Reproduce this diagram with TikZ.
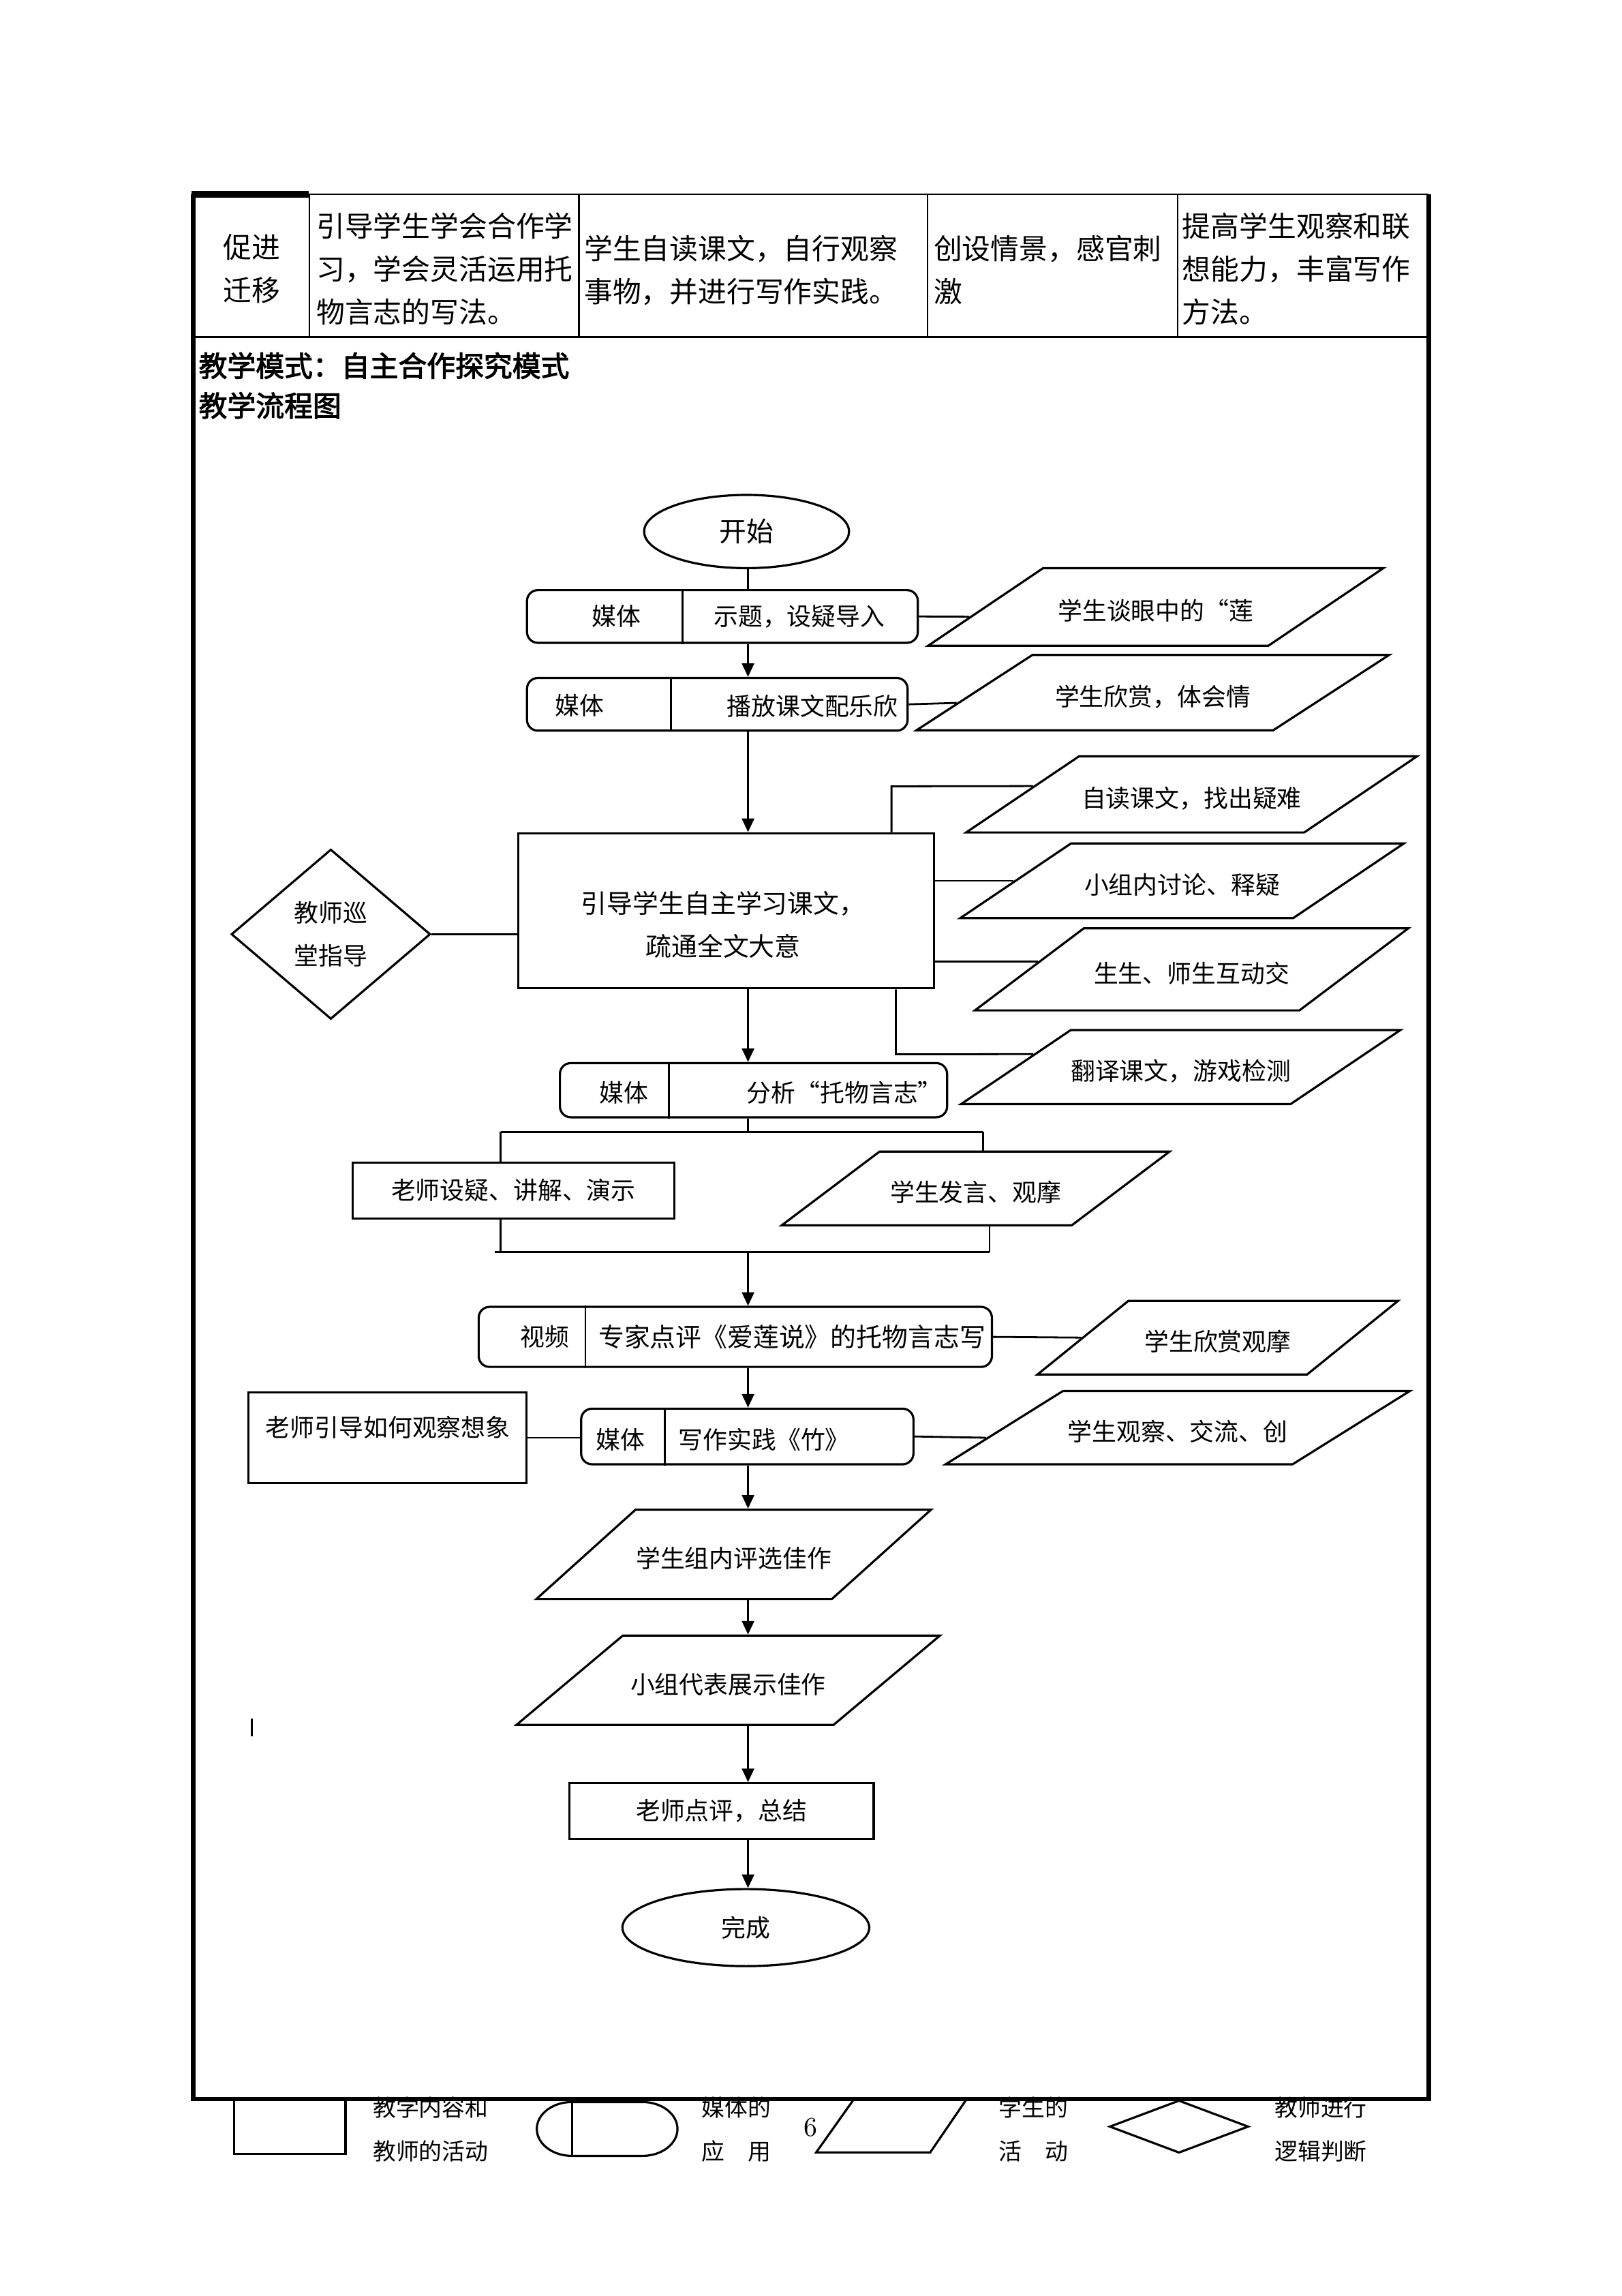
\documentclass[tikz,border=0pt]{standalone}
\usepackage{fontspec}
\newfontfamily\zh{Noto Sans CJK SC}
\newfontfamily\zhb{Noto Sans CJK SC}[FakeBold=2.5]
\usetikzlibrary{arrows.meta, shapes.geometric}
\newcommand{\pxl}{0.018953cm}

\begin{document}
\begin{tikzpicture}[x=0.018953cm, y=-0.018953cm, >={Triangle[length=5pt, width=4.5pt]},
  every node/.style={font=\zh\fontsize{9}{11}\selectfont, inner sep=0pt},
  frame/.style={line width=1.6pt},
  grid/.style={line width=0.6pt},
  cell/.style={align=left, anchor=west, font=\zh\fontsize{10.5}{15.8}\selectfont},
  head/.style={anchor=west, font=\zhb\fontsize{10.5}{12}\selectfont},
  box/.style 2 args={draw, line width=0.8pt, minimum width=#1*\pxl, minimum height=#2*\pxl},
  media/.style 2 args={box={#1}{#2}, rounded corners=4pt},
  stu/.style n args={4}{draw, line width=0.8pt, trapezium, trapezium left angle=#3, trapezium right angle=#4, trapezium stretches body, minimum width=#1*\pxl, text height={(#2/2+9)*\pxl}, text depth={(#2/2-9)*\pxl}},
  term/.style 2 args={draw, ellipse, line width=0.8pt, minimum width=#1*\pxl, minimum height=#2*\pxl},
  link/.style={line width=0.7pt},
  flow/.style={link, ->},
  legend/.style={anchor=west, font=\zh\fontsize{8.5}{10}\selectfont}]
  \useasboundingbox (0,0) rectangle (1108,1568);

  \draw[grid] (211,132.6) -- (976,132.6);
  \draw[line width=2.4pt] (131,132.6) -- (211,132.6);
  \draw[grid] (131,230.3) -- (976,230.3);
  \foreach \cx in {211.4,395.4,633.6,804.6}
    \draw[grid] (\cx,132.6) -- (\cx,230.3);
  \node[align=center, font=\zh\fontsize{10.5}{15.8}\selectfont] (c1) at (172,183.5) {促进\\迁移};
  \node[cell] (c2) at (215.8,183.8) {引导学生学会合作学\\习，学会灵活运用托\\物言志的写法。};
  \node[cell] (c3) at (398.7,184.5) {学生自读课文，自行观察\\事物，并进行写作实践。};
  \node[cell] (c4) at (637.5,184.5) {创设情景，感官刺\\激};
  \node[cell] (c5) at (807.3,183.8) {提高学生观察和联\\想能力，丰富写作\\方法。};
  \node[head] (mode) at (135.4,249.7) {教学模式：自主合作探究模式};
  \node[head] (chart) at (135.4,276.9) {教学流程图};

  \coordinate (spine) at (511,0);
  \node[term={140}{50}, font=\zh\fontsize{10}{12}\selectfont] (start) at (510,363) {开始};
  \node[media={267}{36}] (m1) at (493.5,421) {};
  \node (m1a) at (421,421) {媒体};
  \node (m1b) at (546,421) {示题，设疑导入};
  \draw[link] ([xshift=107*\pxl]m1.north west) -- ([xshift=107*\pxl]m1.south west);
  \node[media={260}{36}] (m2) at (490,481) {};
  \node (m2a) at (396,482) {媒体};
  \node (m2b) at (555,482) {播放课文配乐欣};
  \draw[link] ([xshift=99*\pxl]m2.north west) -- ([xshift=99*\pxl]m2.south west);
  \node[stu={311}{53}{34}{146}] (p1) at (789.5,414.5) {学生谈眼中的“莲};
  \node[stu={323}{51.5}{33}{147}] (p2) at (787.5,473) {学生欣赏，体会情};

  \node[box={284}{106}] (main) at (496,622) {};
  \node[align=center, font=\zh\fontsize{9.5}{15.6}\selectfont] (main-t) at (494,631.5) {引导学生自主学习课文，\\疏通全文大意};
  \node[draw, diamond, line width=0.8pt, minimum width=136*\pxl, minimum height=116*\pxl, align=center, font=\zh\fontsize{9}{15.6}\selectfont] (guide) at (226,638) {教师巡\\堂指导};
  \node[stu={308}{52}{34}{146}] (p3) at (814,542.5) {自读课文，找出疑难};
  \node[stu={303}{51}{34}{146}] (p4) at (807.5,601.5) {小组内讨论、释疑};
  \node[stu={296}{56}{37}{143}] (p5) at (814,662) {生生、师生互动交};
  \node[stu={300}{50.5}{34}{146}] (p6) at (806.6,728.7) {翻译课文，游戏检测};

  \node[media={264.5}{37}] (m3) at (514.75,744.5) {};
  \node (m3a) at (426,746) {媒体};
  \node (m3b) at (577,746) {分析“托物言志”};
  \draw[link] ([xshift=75*\pxl]m3.north west) -- ([xshift=75*\pxl]m3.south west);
  \node[box={219.5}{38}] (teach) at (350.75,813) {老师设疑、讲解、演示};
  \node[stu={265}{50.4}{37}{143}] (speak) at (666.5,811.6) {学生发言、观摩};

  \node[media={350.6}{41}] (video) at (502.3,913) {};
  \node (video-a) at (372,913) {视频};
  \node[font=\zh\fontsize{9.5}{11}\selectfont] (video-b) at (541,913) {专家点评《爱莲说》的托物言志写};
  \draw[link] ([xshift=73.7*\pxl]video.north west) -- ([xshift=73.7*\pxl]video.south west);
  \node[stu={246.3}{50.3}{39}{141}] (watch) at (831.9,913.5) {学生欣赏观摩};

  \node[media={227}{38}] (m4) at (510.5,981) {};
  \node (m4a) at (424,983) {媒体};
  \node (m4b) at (522,983) {写作实践《竹》};
  \draw[link] ([xshift=58*\pxl]m4.north west) -- ([xshift=58*\pxl]m4.south west);
  \node[box={190}{62}] (lead) at (264.7,981.9) {};
  \node (lead-t) at (265,975) {老师引导如何观察想象};
  \node[stu={317}{50}{32}{148}] (create) at (804.5,975) {学生观察、交流、创};

  \node[stu={269.6}{61}{42}{138}] (pick) at (501.2,1061.5) {学生组内评选佳作};
  \node[stu={289.3}{61}{40}{140}] (show) at (497.4,1147.5) {小组代表展示佳作};
  \node[box={207.8}{38}] (sum) at (492.9,1236.8) {老师点评，总结};
  \node[term={168.6}{52.6}] (finish) at (509.5,1316.4) {完成};
  \draw[line width=0.6pt] (172,1173.6) -- (172,1185.7);

  \draw[link] (spine |- start.south) -- (spine |- m1.north);
  \draw[flow] (spine |- m1.south) -- (spine |- m2.north);
  \draw[flow] (spine |- m2.south) -- (spine |- main.north);
  \draw[link] (m1.east) -- (p1.183);
  \draw[link] (m2.east) -- (p2.183);
  \draw[link] (guide.east) -- (guide.east -| main.west);
  \coordinate (tapN) at (609,537);
  \coordinate (tapS) at (612,720);
  \draw[link] (tapN |- main.north) -- (tapN) -- (p3.177);
  \draw[link] (main.east |- p4.west) -- (p4.west);
  \draw[link] (main.east |- p5.177) -- (p5.177);
  \draw[link] (tapS |- main.south) -- (tapS) -- (p6.175);
  \draw[flow] (spine |- main.south) -- (spine |- m3.north);

  \coordinate (splitL) at (342,773);
  \coordinate (splitR) at (671.5,773);
  \coordinate (mergeL) at (338,855);
  \coordinate (mergeR) at (676,855);
  \draw[link] (spine |- m3.south) -- (spine |- splitL);
  \draw[link] (splitL) -- (splitR);
  \draw[link] (splitL) -- (splitL |- teach.north);
  \draw[link] (splitR) -- (splitR |- speak.north);
  \draw[link] (splitL |- teach.south) -- (splitL |- mergeL);
  \draw[link] (mergeR |- speak.south) -- (mergeR);
  \draw[link] (mergeL) -- (mergeR);
  \draw[flow] (spine |- mergeL) -- (spine |- video.north);

  \draw[link] (video.east) -- (watch.west);
  \draw[flow] (spine |- video.south) -- (spine |- m4.north);
  \draw[link] (lead.east) -- (lead.east -| m4.west);
  \draw[link] (m4.east) -- (create.183);
  \draw[flow] (spine |- m4.south) -- (spine |- pick.north);
  \draw[flow] (spine |- pick.south) -- (spine |- show.north);
  \draw[flow] (spine |- show.south) -- (spine |- sum.north);
  \draw[flow] (spine |- sum.south) -- (spine |- finish.north);

  \node[box={76}{37}] (lg-rect) at (198,1452.5) {};
  \node[legend] (lg-t1) at (254.4,1439.4) {教学内容和};
  \node[legend] (lg-t2) at (254.4,1469) {教师的活动};
  \draw[line width=0.8pt] (390.7,1435.5) -- (438.8,1435.5) arc[start angle=90, end angle=-90, x radius=24*\pxl, y radius=18.4*\pxl] -- (390.7,1472.3) arc[start angle=270, end angle=90, x radius=24*\pxl, y radius=18.4*\pxl] -- cycle;
  \draw[line width=0.8pt] (390.7,1435.5) -- (390.7,1472.3);
  \node[legend] (lg-t3) at (479,1439.4) {媒体的};
  \node[legend] (lg-t4) at (479,1469) {应\hspace{1em}用};
  \node[font=\rmfamily\fontsize{10}{12}\selectfont] (page) at (553.7,1453) {6};
  \draw[line width=0.8pt] (583,1434) -- (660,1434) -- (635.4,1470) -- (557.5,1470) -- cycle;
  \node[legend] (lg-t5) at (682,1439.4) {学生的};
  \node[legend] (lg-t6) at (682,1469) {活\hspace{1em}动};
  \node[draw, diamond, line width=0.8pt, minimum width=95*\pxl, minimum height=36*\pxl] (lg-dia) at (805.4,1452.3) {};
  \node[legend] (lg-t7) at (870.4,1439.4) {教师进行};
  \node[legend] (lg-t8) at (870.4,1469) {逻辑判断};

  \draw[frame] (132,132.6) -- (132,1433.5) -- (976,1433.5) -- (976,132.6);
\end{tikzpicture}
\end{document}
